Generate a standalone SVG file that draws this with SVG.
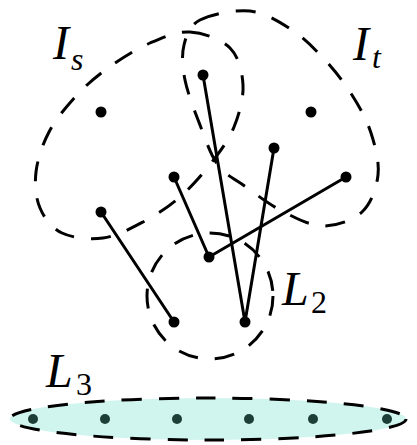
<svg xmlns="http://www.w3.org/2000/svg" width="417" height="445" viewBox="0 0 417 445">
<style>
.set{fill:none;stroke:#000;stroke-width:3;stroke-dasharray:20 17;stroke-linecap:butt}
.edge{stroke:#000;stroke-width:3;stroke-linecap:round}
.dot{fill:#000}
.ldot{fill:#1c4038}
.lbl{font-family:"Liberation Serif","Times New Roman",serif;font-style:italic;font-size:48px;fill:#000}
.sub{font-family:"Liberation Serif","Times New Roman",serif;font-size:32px;fill:#000}
.subi{font-style:italic}
</style>
<rect width="417" height="445" fill="#fff"/>
<g id="Is">
<path class="set" d="M190,32 C203.3,32.8 221.2,39.2 230,48 C238.8,56.8 242.3,71.8 243,85 C243.7,98.2 239.2,114.2 234,127 C228.8,139.8 221,150.3 212,162 C203,173.7 191.5,187 180,197 C168.5,207 155.8,215.2 143,222 C130.2,228.8 116.5,236.2 103,238 C89.5,239.8 72.5,238 62,233 C51.5,228 44.3,218.2 40,208 C35.7,197.8 34.5,184.7 36,172 C37.5,159.3 42.3,144.7 49,132 C55.7,119.3 66.2,106.7 76,96 C85.8,85.3 95.7,76.8 108,68 C120.3,59.2 136.3,49 150,43 C163.7,37 176.7,31.2 190,32 Z"/>
<text class="lbl" x="53" y="59">I</text><text class="sub subi" x="71" y="70">s</text>
</g>
<g id="It">
<path class="set" d="M200,20 C211,14.3 234.7,9.3 250,11 C265.3,12.7 279.5,21.8 292,30 C304.5,38.2 315,49.2 325,60 C335,70.8 344.3,82.8 352,95 C359.7,107.2 366.7,119.7 371,133 C375.3,146.3 379.5,161.8 378,175 C376.5,188.2 371.2,203.5 362,212 C352.8,220.5 336.3,226.2 323,226 C309.7,225.8 294.8,217.5 282,211 C269.2,204.5 256.7,194.7 246,187 C235.3,179.3 225.7,175.3 218,165 C210.3,154.7 205.5,139.2 200,125 C194.5,110.8 187.7,93.3 185,80 C182.3,66.7 181.5,55 184,45 C186.5,35 189,25.7 200,20 Z"/>
<text class="lbl" x="353" y="60">I</text><text class="sub subi" x="372" y="68">t</text>
</g>
<g id="L2">
<circle class="set" cx="210" cy="296" r="63"/>
<text class="lbl" x="282" y="305">L</text><text class="sub" x="311" y="313">2</text>
</g>
<g id="L3">
<ellipse cx="208" cy="419" rx="198" ry="21" fill="#d0f5ee" class="set" style="fill:#d0f5ee"/>
<text class="lbl" x="46" y="387">L</text><text class="sub" x="76" y="395">3</text>
<circle class="ldot" cx="33" cy="419" r="5"/>
<circle class="ldot" cx="105" cy="419" r="5"/>
<circle class="ldot" cx="177" cy="419" r="5"/>
<circle class="ldot" cx="249" cy="419" r="5"/>
<circle class="ldot" cx="313" cy="419" r="5"/>
<circle class="ldot" cx="387" cy="419" r="5"/>
</g>
<g id="connectors">
<line class="edge" x1="203" y1="75" x2="245" y2="322"/>
<line class="edge" x1="274" y1="148" x2="245" y2="322"/>
<line class="edge" x1="174" y1="177" x2="209" y2="257"/>
<line class="edge" x1="209" y1="257" x2="346" y2="177"/>
<line class="edge" x1="101" y1="212" x2="174" y2="322"/>
</g>
<g id="nodes">
<circle id="nA" class="dot" cx="101" cy="112" r="5.5"/>
<circle id="nB" class="dot" cx="203" cy="75" r="5.5"/>
<circle id="nC" class="dot" cx="311" cy="112" r="5.5"/>
<circle id="nD" class="dot" cx="174" cy="177" r="5.5"/>
<circle id="nE" class="dot" cx="274" cy="148" r="5.5"/>
<circle id="nF" class="dot" cx="346" cy="177" r="5.5"/>
<circle id="nG" class="dot" cx="101" cy="212" r="5.5"/>
<circle id="nH" class="dot" cx="209" cy="257" r="5.5"/>
<circle id="nJ" class="dot" cx="174" cy="322" r="5.5"/>
<circle id="nK" class="dot" cx="245" cy="322" r="5.5"/>
</g>
</svg>
